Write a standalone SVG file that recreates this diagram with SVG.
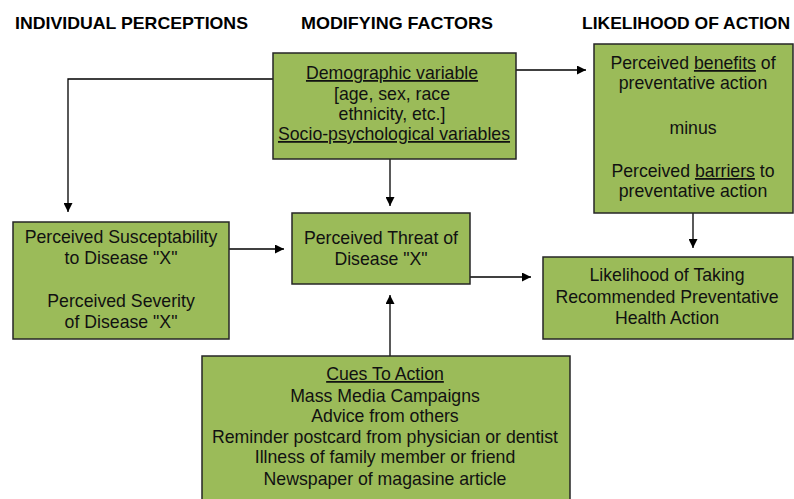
<svg xmlns="http://www.w3.org/2000/svg" width="794" height="499" viewBox="0 0 794 499">
<defs>
<marker id="ah" viewBox="0 0 10 10" refX="10" refY="5" markerWidth="9" markerHeight="9" markerUnits="userSpaceOnUse" orient="auto">
<path d="M0,0 L10,5 L0,10 z" fill="#000"/>
</marker>
<style>
.box{fill:#9bbb59;stroke:#262626;stroke-width:1.5}
.t{font-family:"Liberation Sans",Arial,sans-serif;font-size:17.7px;fill:#111;text-anchor:middle}
.h{font-family:"Liberation Sans",Arial,sans-serif;font-size:17px;font-weight:bold;fill:#000}
.u{text-decoration:underline}
.c{fill:none;stroke:#000;stroke-width:1.3}
</style>
</defs>
<rect width="794" height="499" fill="#fff"/>
<g id="headers">
<text class="h" x="15" y="29" textLength="233" lengthAdjust="spacingAndGlyphs">INDIVIDUAL PERCEPTIONS</text>
<text class="h" x="301" y="29" textLength="192" lengthAdjust="spacingAndGlyphs">MODIFYING FACTORS</text>
<text class="h" x="582" y="29" textLength="208" lengthAdjust="spacingAndGlyphs">LIKELIHOOD OF ACTION</text>
</g>
<g id="connectors">
<path class="c" d="M273,79 H68 V212" marker-end="url(#ah)"/>
<path class="c" d="M516,70 H586" marker-end="url(#ah)"/>
<path class="c" d="M390,159 V206" marker-end="url(#ah)"/>
<path class="c" d="M229,249 H284" marker-end="url(#ah)"/>
<path class="c" d="M470,277 H531" marker-end="url(#ah)"/>
<path class="c" d="M390,356 V295" marker-end="url(#ah)"/>
<path class="c" d="M693,213 V248" marker-end="url(#ah)"/>
</g>
<g id="demographic">
<rect class="box" x="273" y="53" width="243" height="106"/>
<text class="t" x="392" y="79"><tspan class="u">Demographic variable</tspan></text>
<text class="t" x="392" y="100">[age, sex, race</text>
<text class="t" x="392" y="120">ethnicity, etc.]</text>
<text class="t" x="394" y="140"><tspan class="u">Socio-psychological variables</tspan></text>
</g>
<g id="benefits">
<rect class="box" x="594" y="44" width="199" height="169"/>
<text class="t" x="693" y="69">Perceived <tspan class="u">benefits</tspan> of</text>
<text class="t" x="693" y="89">preventative action</text>
<text class="t" x="693" y="134">minus</text>
<text class="t" x="693" y="177">Perceived <tspan class="u">barriers</tspan> to</text>
<text class="t" x="693" y="197">preventative action</text>
</g>
<g id="susceptibility">
<rect class="box" x="13" y="222" width="216" height="117"/>
<text class="t" x="121" y="243">Perceived Susceptability</text>
<text class="t" x="121" y="264">to Disease "X"</text>
<text class="t" x="121" y="307">Perceived Severity</text>
<text class="t" x="121" y="328">of Disease "X"</text>
</g>
<g id="threat">
<rect class="box" x="292" y="213" width="178" height="71"/>
<text class="t" x="381" y="244">Perceived Threat of</text>
<text class="t" x="381" y="265">Disease "X"</text>
</g>
<g id="likelihood">
<rect class="box" x="543" y="257" width="250" height="82"/>
<text class="t" x="667" y="281">Likelihood of Taking</text>
<text class="t" x="667" y="303">Recommended Preventative</text>
<text class="t" x="667" y="324">Health Action</text>
</g>
<g id="cues">
<rect class="box" x="202" y="356" width="368" height="150"/>
<text class="t" x="385" y="380"><tspan class="u">Cues To Action</tspan></text>
<text class="t" x="385" y="402">Mass Media Campaigns</text>
<text class="t" x="385" y="422">Advice from others</text>
<text class="t" x="385" y="443">Reminder postcard from physician or dentist</text>
<text class="t" x="385" y="463">Illness of family member or friend</text>
<text class="t" x="385" y="485">Newspaper of magasine article</text>
</g>
</svg>
